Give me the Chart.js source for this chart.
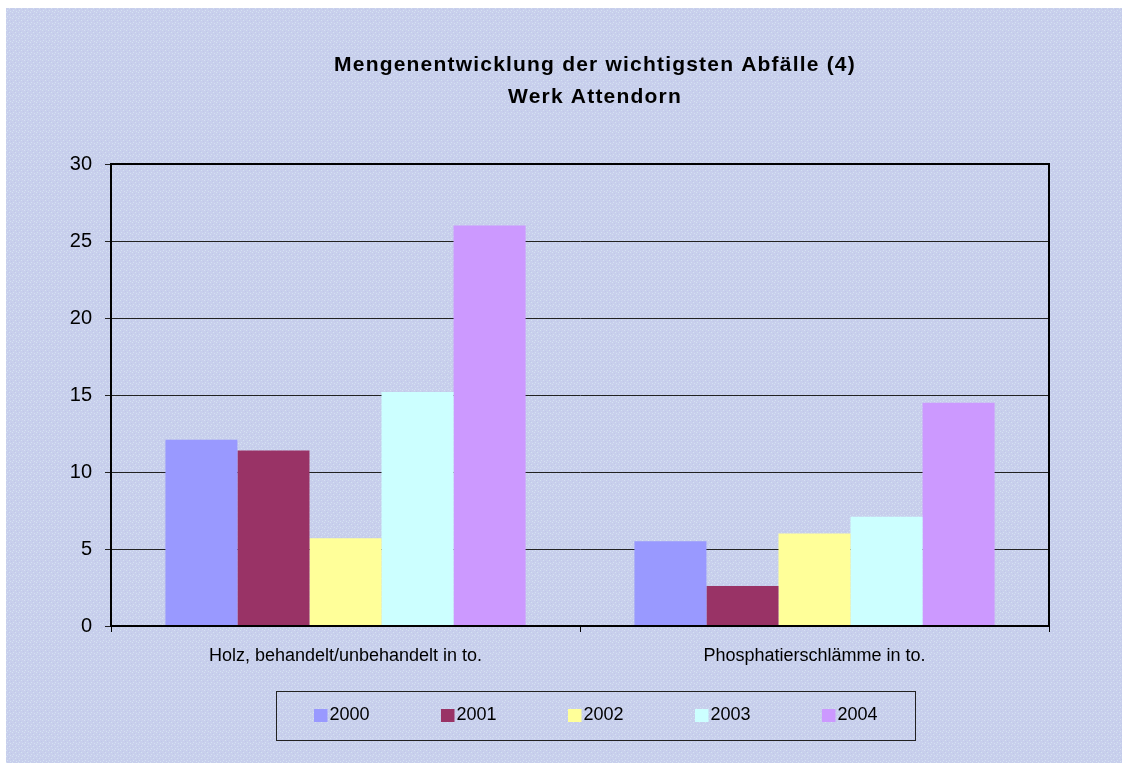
<!DOCTYPE html>
<html><head><meta charset="utf-8">
<script src="https://cdn.jsdelivr.net/npm/chart.js@4.4.1/dist/chart.umd.min.js"></script>
<style>html,body{margin:0;padding:0;background:#fff;}#wrap{width:1122px;height:763px;}</style>
</head><body><div id="wrap"><canvas id="c" width="1122" height="763"></canvas></div>
<script>
const categories = ['Holz, behandelt/unbehandelt in to.', 'Phosphatierschlämme in to.'];
const seriesNames = ['2000', '2001', '2002', '2003', '2004'];
const values2000 = [12.1, 5.5];
const values2001 = [11.4, 2.6];
const values2002 = [5.7, 6.0];
const values2003 = [15.2, 7.1];
const values2004 = [26.0, 14.5];
const yTickValues = [0, 5, 10, 15, 20, 25, 30];
const titleLines = ['Mengenentwicklung der wichtigsten Abfälle (4)', 'Werk Attendorn'];
const seriesColors = ['#9999FF', '#993366', '#FFFF99', '#CCFFFF', '#CC99FF'];
const seriesValues = [values2000, values2001, values2002, values2003, values2004];

const FONT = "'Liberation Sans', Arial, sans-serif";

const bgPlugin = {
  id: 'bg',
  beforeDraw(chart) {
    const ctx = chart.ctx;
    ctx.save();
    ctx.fillStyle = '#ffffff';
    ctx.fillRect(0, 0, chart.width, chart.height);
    const t = document.createElement('canvas');
    t.width = 6; t.height = 6;
    const tc = t.getContext('2d');
    tc.fillStyle = '#c8cfec'; tc.fillRect(0, 0, 6, 6);
    tc.fillStyle = '#d4e2f2';
    tc.fillRect(0, 0, 1, 1); tc.fillRect(3, 2, 1, 1); tc.fillRect(1, 4, 1, 1); tc.fillRect(4, 5, 1, 1);
    tc.fillStyle = '#bfc9e9';
    tc.fillRect(2, 1, 1, 1); tc.fillRect(5, 3, 1, 1);
    ctx.fillStyle = ctx.createPattern(t, 'repeat');
    ctx.fillRect(6, 8, chart.width - 6, chart.height - 8);
    ctx.restore();
  }
};

const framePlugin = {
  id: 'frame',
  afterDatasetsDraw(chart) {
    const a = chart.chartArea, ctx = chart.ctx;
    ctx.save();
    ctx.strokeStyle = '#000';
    ctx.lineWidth = 2;
    ctx.strokeRect(a.left, a.top, a.right - a.left, a.bottom - a.top);
    ctx.restore();
  }
};

const titleLegendPlugin = {
  id: 'titleLegend',
  afterDraw(chart) {
    const ctx = chart.ctx;
    ctx.save();
    ctx.fillStyle = '#000';
    ctx.textAlign = 'center';
    ctx.textBaseline = 'alphabetic';
    ctx.font = 'bold 21px ' + FONT;
    try { ctx.letterSpacing = '1.2px'; } catch (e) {}
    ctx.fillText(titleLines[0], 595, 71);
    ctx.fillText(titleLines[1], 595, 103);
    try { ctx.letterSpacing = '0px'; } catch (e) {}
    // legend
    ctx.strokeStyle = '#222';
    ctx.lineWidth = 1;
    ctx.strokeRect(276.5, 691.5, 639, 49);
    ctx.textAlign = 'left';
    ctx.font = '18px ' + FONT;
    chart.data.datasets.forEach((ds, i) => {
      const x0 = 314 + i * 127;
      ctx.fillStyle = ds.backgroundColor;
      ctx.fillRect(x0, 709, 13.5, 13);
      ctx.fillStyle = '#000';
      ctx.fillText(ds.label, x0 + 15.5, 720);
    });
    ctx.restore();
  }
};

new Chart(document.getElementById('c'), {
  type: 'bar',
  data: {
    labels: categories,
    datasets: seriesNames.map((n, i) => ({
      label: n,
      data: seriesValues[i],
      backgroundColor: seriesColors[i],
      borderWidth: 0,
      categoryPercentage: 0.768,
      barPercentage: 1.0
    }))
  },
  options: {
    responsive: false,
    animation: false,
    layout: { padding: { top: 164, right: 73, left: 0, bottom: 0 }, autoPadding: false },
    plugins: { legend: { display: false }, title: { display: false }, tooltip: { enabled: false } },
    scales: {
      x: {
        grid: { drawOnChartArea: false, drawTicks: true, tickLength: 6, color: '#000', lineWidth: 1, offset: true },
        border: { display: true, color: '#000', width: 2 },
        ticks: { color: '#000', font: { family: FONT, size: 18 }, padding: 13, maxRotation: 0 },
        afterFit(s) { s.height = 137; }
      },
      y: {
        min: 0, max: 30,
        afterBuildTicks(s) { s.ticks = yTickValues.map(v => ({ value: v })); },
        grid: { color: '#222', lineWidth: 1, tickLength: 6, drawTicks: true },
        border: { display: true, color: '#000', width: 2 },
        ticks: { color: '#000', font: { family: FONT, size: 20 }, padding: 13 },
        afterFit(s) { s.width = 111; }
      }
    }
  },
  plugins: [bgPlugin, framePlugin, titleLegendPlugin]
});
</script></body></html>
